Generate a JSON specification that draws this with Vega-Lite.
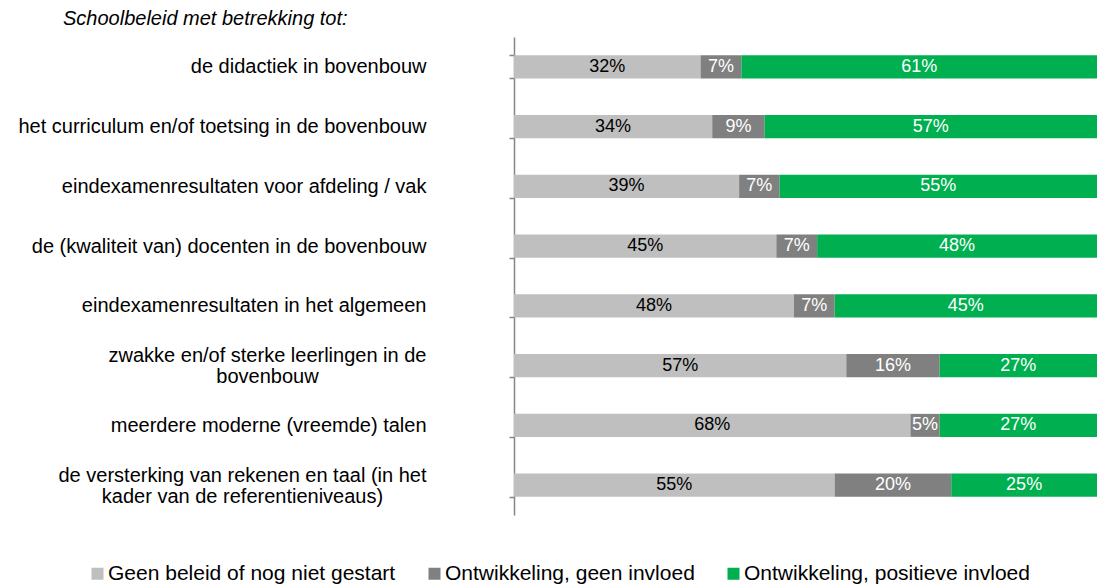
{
  "$schema": "https://vega.github.io/schema/vega-lite/v6.json",
  "autosize": {"type": "none"},
  "padding": {"left": 514, "top": 37, "right": 10, "bottom": 70},
  "width": 583,
  "height": 478,
  "background": "white",
  "config": {
    "view": {"stroke": null},
    "font": "Liberation Sans"
  },
  "title": {
    "text": "Schoolbeleid met betrekking tot:",
    "anchor": "start",
    "frame": "group",
    "dx": -451,
    "offset": -2,
    "font": "Liberation Sans",
    "fontSize": 20,
    "fontStyle": "italic",
    "fontWeight": "normal",
    "color": "#000000"
  },
  "data": {
    "values": [
      {"item": "de didactiek in bovenbouw", "series": "Geen beleid of nog niet gestart", "pct": 0.32},
      {"item": "de didactiek in bovenbouw", "series": "Ontwikkeling, geen invloed", "pct": 0.07},
      {"item": "de didactiek in bovenbouw", "series": "Ontwikkeling, positieve invloed", "pct": 0.61},
      {"item": "het curriculum en/of toetsing in de bovenbouw ", "series": "Geen beleid of nog niet gestart", "pct": 0.34},
      {"item": "het curriculum en/of toetsing in de bovenbouw ", "series": "Ontwikkeling, geen invloed", "pct": 0.09},
      {"item": "het curriculum en/of toetsing in de bovenbouw ", "series": "Ontwikkeling, positieve invloed", "pct": 0.57},
      {"item": "eindexamenresultaten voor afdeling / vak", "series": "Geen beleid of nog niet gestart", "pct": 0.39},
      {"item": "eindexamenresultaten voor afdeling / vak", "series": "Ontwikkeling, geen invloed", "pct": 0.07},
      {"item": "eindexamenresultaten voor afdeling / vak", "series": "Ontwikkeling, positieve invloed", "pct": 0.55},
      {"item": "de (kwaliteit van) docenten in de bovenbouw", "series": "Geen beleid of nog niet gestart", "pct": 0.45},
      {"item": "de (kwaliteit van) docenten in de bovenbouw", "series": "Ontwikkeling, geen invloed", "pct": 0.07},
      {"item": "de (kwaliteit van) docenten in de bovenbouw", "series": "Ontwikkeling, positieve invloed", "pct": 0.48},
      {"item": "eindexamenresultaten in het algemeen", "series": "Geen beleid of nog niet gestart", "pct": 0.48},
      {"item": "eindexamenresultaten in het algemeen", "series": "Ontwikkeling, geen invloed", "pct": 0.07},
      {"item": "eindexamenresultaten in het algemeen", "series": "Ontwikkeling, positieve invloed", "pct": 0.45},
      {"item": "zwakke en/of sterke leerlingen in de|bovenbouw", "series": "Geen beleid of nog niet gestart", "pct": 0.57},
      {"item": "zwakke en/of sterke leerlingen in de|bovenbouw", "series": "Ontwikkeling, geen invloed", "pct": 0.16},
      {"item": "zwakke en/of sterke leerlingen in de|bovenbouw", "series": "Ontwikkeling, positieve invloed", "pct": 0.27},
      {"item": "meerdere moderne (vreemde) talen", "series": "Geen beleid of nog niet gestart", "pct": 0.68},
      {"item": "meerdere moderne (vreemde) talen", "series": "Ontwikkeling, geen invloed", "pct": 0.05},
      {"item": "meerdere moderne (vreemde) talen", "series": "Ontwikkeling, positieve invloed", "pct": 0.27},
      {"item": "de versterking van rekenen en taal (in het|kader van de referentieniveaus)", "series": "Geen beleid of nog niet gestart", "pct": 0.55},
      {"item": "de versterking van rekenen en taal (in het|kader van de referentieniveaus)", "series": "Ontwikkeling, geen invloed", "pct": 0.20},
      {"item": "de versterking van rekenen en taal (in het|kader van de referentieniveaus)", "series": "Ontwikkeling, positieve invloed", "pct": 0.25}
    ]
  },
  "transform": [
    {"stack": "pct", "groupby": ["item"], "sort": [{"field": "series", "order": "ascending"}], "offset": "normalize", "as": ["x0", "x1"]},
    {"calculate": "(datum.x0 + datum.x1) / 2", "as": "xm"}
  ],
  "encoding": {
    "y": {
      "field": "item",
      "type": "nominal",
      "sort": [
        "de didactiek in bovenbouw",
        "het curriculum en/of toetsing in de bovenbouw ",
        "eindexamenresultaten voor afdeling / vak",
        "de (kwaliteit van) docenten in de bovenbouw",
        "eindexamenresultaten in het algemeen",
        "zwakke en/of sterke leerlingen in de|bovenbouw",
        "meerdere moderne (vreemde) talen",
        "de versterking van rekenen en taal (in het|kader van de referentieniveaus)"
      ],
      "scale": {"paddingInner": 0.615, "paddingOuter": 0.3075},
      "axis": {
        "title": null,
        "domainColor": "#868686",
        "domainWidth": 1.5,
        "tickColor": "#868686",
        "tickWidth": 1.5,
        "tickSize": 5,
        "tickBand": "extent",
        "labelFont": "Liberation Sans",
        "labelFontSize": 20,
        "labelColor": "#000000",
        "labelLimit": 0,
        "labelLineHeight": 21,
        "labelExpr": "isString(datum.value) ? split(datum.value, '|') : ''",
        "labelAlign": {"condition": {"test": "isString(datum.value) && indexof(datum.value, '|') >= 0", "value": "center"}, "value": "right"},
        "labelOffset": {"condition": {"test": "isString(datum.value) && indexof(datum.value, '|') >= 0", "value": -10}, "value": 0},
        "labelPadding": {"condition": [
          {"test": "isString(datum.value) && indexof(datum.value, 'zwakke') >= 0", "value": 242},
          {"test": "isString(datum.value) && indexof(datum.value, 'versterking') >= 0", "value": 267}
        ], "value": 83}
      }
    }
  },
  "layer": [
    {
      "mark": {"type": "bar"},
      "encoding": {
        "x": {"field": "x0", "type": "quantitative", "scale": {"domain": [0, 1]}, "axis": null},
        "x2": {"field": "x1"},
        "color": {
          "field": "series",
          "type": "nominal",
          "scale": {
            "domain": ["Geen beleid of nog niet gestart", "Ontwikkeling, geen invloed", "Ontwikkeling, positieve invloed"],
            "range": ["#BFBFBF", "#808080", "#00B050"]
          },
          "legend": {
            "title": null,
            "orient": "none",
            "direction": "horizontal",
            "legendX": -427,
            "legendY": 526,
            "padding": 0,
            "symbolType": "square",
            "symbolSize": 144,
            "symbolStrokeWidth": 0,
            "labelFont": "Liberation Sans",
            "labelFontSize": 21,
            "labelColor": "#000000",
            "labelLimit": 0,
            "labelOffset": 0,
            "columnPadding": 28
          }
        }
      }
    },
    {
      "mark": {"type": "text", "font": "Liberation Sans", "fontSize": 18, "baseline": "middle", "align": "center"},
      "encoding": {
        "x": {"field": "xm", "type": "quantitative"},
        "text": {"field": "pct", "type": "quantitative", "format": ".0%"},
        "color": {
          "condition": {"test": "datum.series == 'Geen beleid of nog niet gestart'", "value": "#000000"},
          "value": "#FFFFFF"
        }
      }
    }
  ]
}
